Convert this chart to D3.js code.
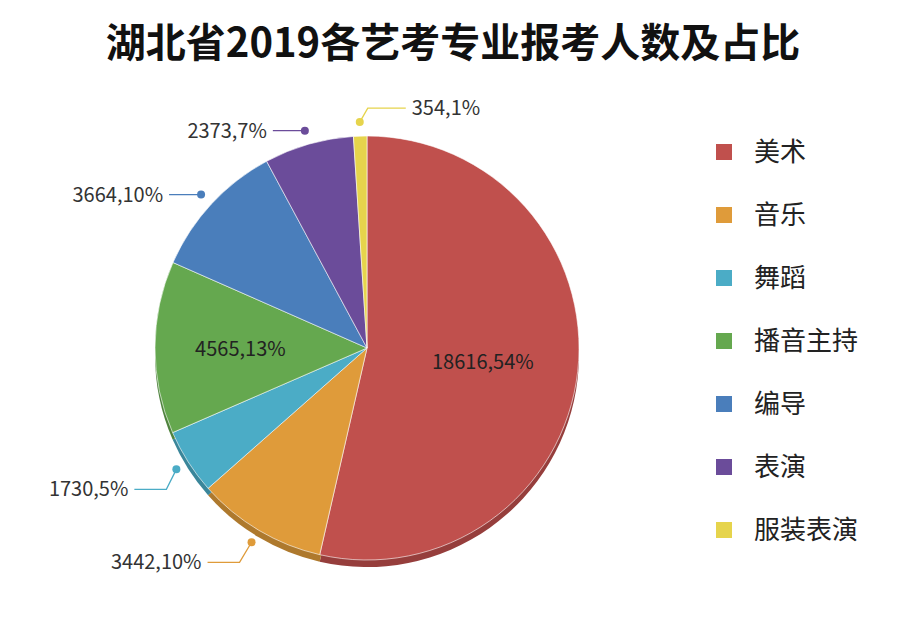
<!DOCTYPE html>
<html><head><meta charset="utf-8">
<script src="https://cdn.jsdelivr.net/npm/d3@7/dist/d3.min.js"></script>
<style>body{margin:0;background:#fff}</style></head>
<body><svg id="c" width="906" height="624"></svg>
<script>
const categories=["美术","音乐","舞蹈","播音主持","编导","表演","服装表演"];
const values=[18616,3442,1730,4565,3664,2373,354];
const percents=["54%","10%","5%","13%","10%","7%","1%"];
const colors=["#c0504d","#df9b3a","#4bacc6","#65a84f","#4a7ebb","#6b4c9a","#e6d44c"];
const leaders=[null,[-12,20],[-10,20],null,[0,0],[0,0],[8,-14]];
const svg=d3.select("#c");
const F="'Noto Sans CJK SC','Noto Sans',sans-serif";
svg.append("text").attr("x",453).attr("y",57).attr("text-anchor","middle")
 .attr("font-family",F).attr("font-weight","bold").attr("font-size",40).attr("fill","#111")
 .text("湖北省2019各艺考专业报考人数及占比");
const cx=367,cy=348,r=212;
const pie=d3.pie().sort(null).value(d=>d)(values);
const arc=d3.arc().innerRadius(0).outerRadius(r);
const sh=svg.append("g").attr("transform",`translate(${cx},${cy+7})`);
const g=svg.append("g").attr("transform",`translate(${cx},${cy})`);
sh.selectAll("path").data(pie).join("path").attr("d",arc)
 .attr("fill",(d,i)=>d3.color(colors[i]).darker(0.7));
g.selectAll("path").data(pie).join("path").attr("d",arc)
 .attr("fill",(d,i)=>colors[i]).attr("stroke","#fff").attr("stroke-width",0.6);
const inner=d3.arc().innerRadius(r*0.55).outerRadius(r*0.55);
const dotArc=d3.arc().innerRadius(r+14).outerRadius(r+14);
pie.forEach((d,i)=>{
  const txt=values[i]+","+percents[i];
  if(i===0||i===3){
    const c=inner.centroid(d);
    g.append("text").attr("x",c[0]+(i===0?0:-10)).attr("y",c[1]+8).attr("text-anchor","middle")
     .attr("font-family",F).attr("font-size",20).attr("fill","#222").text(txt);
    return;
  }
  const c=dotArc.centroid(d);
  const right=i===6;
  const el=[c[0]+leaders[i][0],c[1]+leaders[i][1]];
  const end=[el[0]+(right?38:-32),el[1]];
  g.append("polyline").attr("points",[c,el,end].map(p=>p.join(",")).join(" "))
   .attr("fill","none").attr("stroke",colors[i]).attr("stroke-width",1.3);
  g.append("circle").attr("cx",c[0]).attr("cy",c[1]).attr("r",4).attr("fill",colors[i]);
  g.append("text").attr("x",end[0]+(right?6:-6)).attr("y",end[1]+7)
   .attr("text-anchor",right?"start":"end").attr("font-family",F).attr("font-size",20)
   .attr("fill","#333").text(txt);
});
const lg=svg.append("g");
categories.forEach((c,i)=>{
  const y=152+i*63;
  lg.append("rect").attr("x",716).attr("y",y-8).attr("width",16).attr("height",16).attr("fill",colors[i]);
  lg.append("text").attr("x",754).attr("y",y+9).attr("font-family",F).attr("font-size",26).attr("fill","#222").text(c);
});
</script></body></html>
